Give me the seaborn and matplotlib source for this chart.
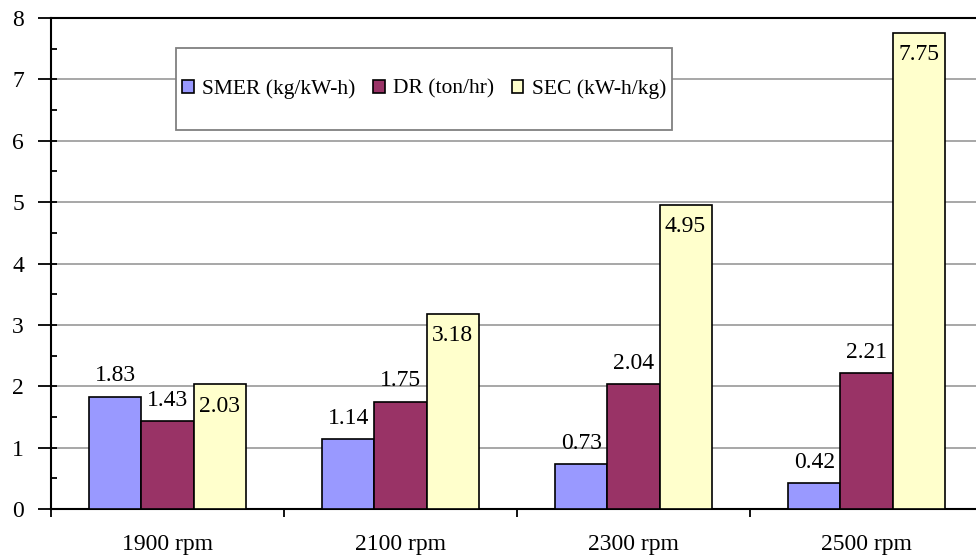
import matplotlib
matplotlib.use("Agg")
import matplotlib.pyplot as plt
from matplotlib.patches import Patch, Rectangle
from matplotlib.ticker import MultipleLocator, FixedLocator, NullFormatter
import seaborn as sns
import pandas as pd

categories = ["1900 rpm", "2100 rpm", "2300 rpm", "2500 rpm"]
series_names = ["SMER (kg/kW-h)", "DR (ton/hr)", "SEC (kW-h/kg)"]
smer = [1.83, 1.14, 0.73, 0.42]
dr = [1.43, 1.75, 2.04, 2.21]
sec = [2.03, 3.18, 4.95, 7.75]
colors = ["#9999FF", "#993366", "#FFFFCC"]

rows = []
for name, vals in zip(series_names, [smer, dr, sec]):
    for c, v in zip(categories, vals):
        rows.append({"cat": c, "series": name, "value": v})
df = pd.DataFrame(rows)

sns.set_theme(style="white")
plt.rcParams["font.family"] = ["Liberation Serif", "DejaVu Serif"]
FS = 17
LFS = 15.5

fig = plt.figure(figsize=(9.76, 5.57), dpi=100)
ax = fig.add_axes([51 / 976, 48 / 557, 932 / 976, 491 / 557])

sns.barplot(data=df, x="cat", y="value", hue="series", order=categories,
            hue_order=series_names, palette=colors, width=0.67,
            edgecolor="black", linewidth=1.2, saturation=1, legend=False,
            errorbar=None, ax=ax, zorder=3)

ax.set_xlim(-0.5, 3.5)
ax.set_ylim(0, 8)
ax.set_xlabel("")
ax.set_ylabel("")

# gridlines
ax.yaxis.set_major_locator(MultipleLocator(1))
ax.grid(axis="y", color="#A0A0A0", linewidth=1.3, zorder=0)
ax.grid(axis="x", visible=False)
ax.set_axisbelow(True)

# spines
for s in ["left", "bottom", "top"]:
    ax.spines[s].set_color("black")
    ax.spines[s].set_linewidth(1.5)
ax.spines["right"].set_visible(False)

# y ticks: major outward, minor inward
ax.yaxis.set_minor_locator(MultipleLocator(0.5))
ax.yaxis.remove_overlapping_locs = False
ax.tick_params(axis="y", which="major", direction="out", length=9.5, width=1.3,
               color="black", labelsize=FS, pad=10, left=True)
ax.tick_params(axis="y", which="minor", direction="in", length=4.5, width=1.3,
               color="black", left=True)

# x ticks: labels at centers, tick marks at category boundaries
ax.set_xticks(range(len(categories)))
ax.set_xticklabels(categories)
ax.xaxis.set_minor_locator(FixedLocator([-0.5, 0.5, 1.5, 2.5, 3.5]))
ax.xaxis.set_minor_formatter(NullFormatter())
ax.tick_params(axis="x", which="major", length=0, labelsize=FS, pad=18)
ax.tick_params(axis="x", which="minor", direction="out", length=6, width=1.3,
               color="black", bottom=True)
for lab in ax.get_xticklabels() + ax.get_yticklabels():
    lab.set_color("black")

# data labels
for i, cont in enumerate(ax.containers):
    for bar in cont:
        h = bar.get_height()
        x = bar.get_x() + bar.get_width() / 2
        if i < 2:
            ax.annotate(f"{h:.2f}", (x, h), xytext=(0, 11), textcoords="offset points",
                        ha="center", va="baseline", fontsize=FS, color="black", zorder=5)
        else:
            ax.annotate(f"{h:.2f}", (x, h), xytext=(0, -8), textcoords="offset points",
                        ha="center", va="top", fontsize=FS, color="black", zorder=5)

# legend box
box = (125 / 932, 379 / 491, 496 / 932, 82 / 491)
ax.add_patch(Rectangle((box[0], box[1]), box[2], box[3], transform=ax.transAxes,
                       facecolor="white", edgecolor="#808080", linewidth=1.3,
                       zorder=9, clip_on=False))
handles = [Patch(facecolor=c, edgecolor="black", linewidth=1.2) for c in colors]
leg = ax.legend(handles, series_names, loc="center", bbox_to_anchor=box,
                ncol=3, fontsize=LFS, frameon=False,
                handlelength=0.55, handleheight=0.55,
                handletextpad=0.4, columnspacing=0.8, borderpad=0.2,
                borderaxespad=0)
leg.set_zorder(10)
for t in leg.get_texts():
    t.set_color("black")

fig.savefig("out.png", dpi=100)
